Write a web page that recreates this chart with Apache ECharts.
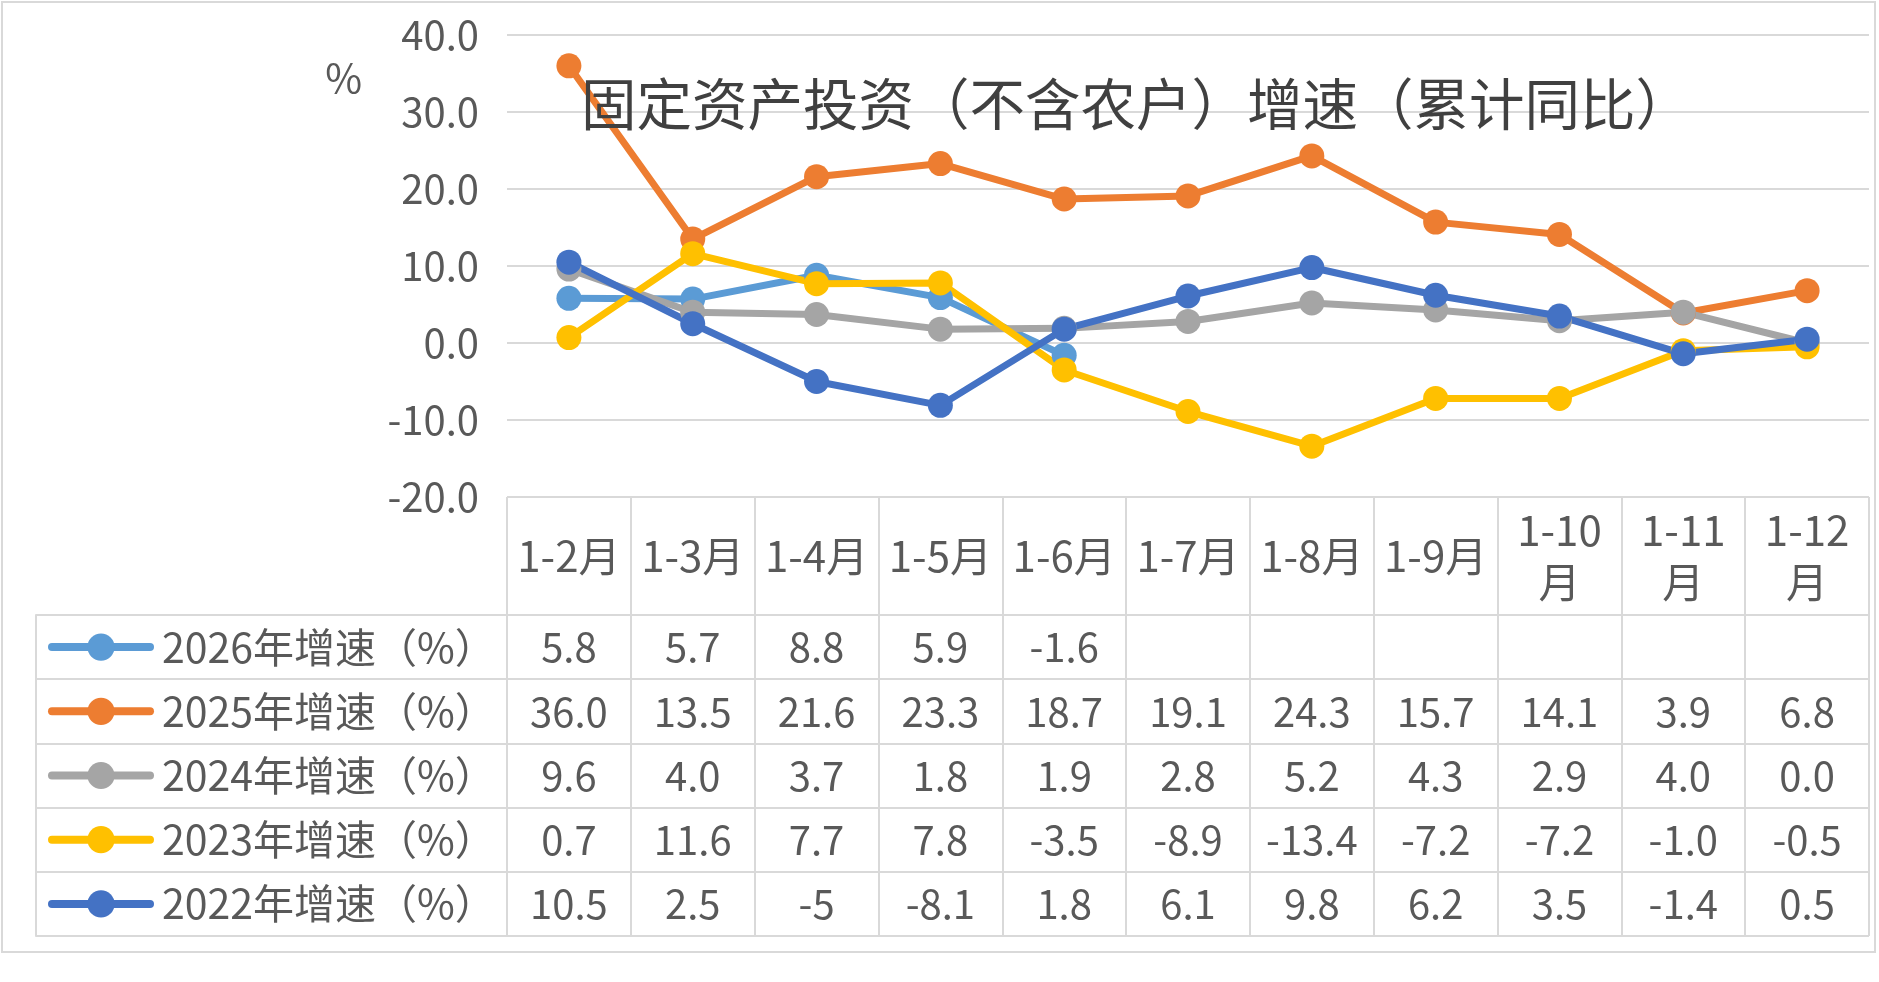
<!DOCTYPE html>
<html>
<head>
<meta charset="UTF-8">
<title>固定资产投资增速</title>
<script src="https://cdn.jsdelivr.net/npm/echarts@6/dist/echarts.min.js"></script>
<style>
  html, body { margin: 0; padding: 0; background: #fff; }
  #main { width: 1879px; height: 982px; }
</style>
</head>
<body>
<div id="main"></div>
<script>
// 月份（累计）
var categories = ['1-2月', '1-3月', '1-4月', '1-5月', '1-6月', '1-7月', '1-8月', '1-9月', '1-10月', '1-11月', '1-12月'];
var seriesNames = ['2026年增速（%）', '2025年增速（%）', '2024年增速（%）', '2023年增速（%）', '2022年增速（%）'];
// 表格里显示的文字，也是折线的数值
var v2026 = ['5.8', '5.7', '8.8', '5.9', '-1.6'];
var v2025 = ['36.0', '13.5', '21.6', '23.3', '18.7', '19.1', '24.3', '15.7', '14.1', '3.9', '6.8'];
var v2024 = ['9.6', '4.0', '3.7', '1.8', '1.9', '2.8', '5.2', '4.3', '2.9', '4.0', '0.0'];
var v2023 = ['0.7', '11.6', '7.7', '7.8', '-3.5', '-8.9', '-13.4', '-7.2', '-7.2', '-1.0', '-0.5'];
var v2022 = ['10.5', '2.5', '-5', '-8.1', '1.8', '6.1', '9.8', '6.2', '3.5', '-1.4', '0.5'];
var yMin = -20, yMax = 40, yStep = 10;

var rows = [v2026, v2025, v2024, v2023, v2022];
var colors = ['#5B9BD5', '#ED7D31', '#A5A5A5', '#FFC000', '#4472C4'];
var font = "'Noto Sans CJK SC', 'Noto Sans', sans-serif";
var textColor = '#595959';
var lineColor = '#d9d9d9';

// 版面
var H = 982;
var plotLeft = 507, plotRight = 10, plotTop = 35, plotBottom = 497;
var headerH = 118, rowH = 64.2;
var tableBottom = plotBottom + headerH + rowH * rows.length;

var chart = echarts.init(document.getElementById('main'));

var xAxes = [{
  type: 'category',
  gridIndex: 0,
  data: categories,
  boundaryGap: true,
  axisLine: { show: false },
  axisTick: { show: false },
  axisLabel: {
    interval: 0,
    margin: headerH / 2,
    verticalAlign: 'middle',
    fontSize: 42,
    lineHeight: 52,
    fontFamily: font,
    color: textColor,
    formatter: function (v) { return v.length > 4 ? v.replace('月', '\n月') : v; }
  }
}];

rows.forEach(function (row, i) {
  xAxes.push({
    type: 'category',
    gridIndex: 0,
    position: 'bottom',
    offset: headerH + rowH * i,
    data: categories,
    axisLine: { show: false },
    axisTick: { show: false },
    axisLabel: {
      interval: 0,
      margin: rowH / 2,
      verticalAlign: 'middle',
      fontSize: 40,
      fontFamily: font,
      color: textColor,
      formatter: function (v, idx) { return row[idx] !== undefined ? row[idx] : ''; }
    }
  });
});

// 表格横线
xAxes.push({ type: 'value', gridIndex: 1, show: false, min: 0, max: 1 });
// 表格竖线
xAxes.push({
  type: 'category',
  gridIndex: 2,
  data: categories,
  boundaryGap: true,
  axisLine: { show: false },
  axisTick: { show: false },
  axisLabel: { show: false },
  splitLine: { show: true, lineStyle: { color: lineColor, width: 2 } }
});

var option = {
  animation: false,
  backgroundColor: '#ffffff',
  title: {
    text: '固定资产投资（不含农户）增速（累计同比）',
    left: 581,
    top: 76,
    padding: 0,
    textStyle: { fontSize: 55.5, fontWeight: 'normal', color: '#404040', fontFamily: font }
  },
  legend: {
    orient: 'vertical',
    left: 48,
    top: plotBottom + headerH + rowH / 2 - 22,
    padding: 0,
    itemWidth: 98,
    itemHeight: 34,
    itemGap: rowH - 44,
    selectedMode: false,
    data: seriesNames,
    lineStyle: { width: 8, cap: 'round' },
    textStyle: { fontSize: 41, lineHeight: 44, color: textColor, fontFamily: font, padding: [0, 0, 0, 7] }
  },
  grid: [
    { left: plotLeft, right: plotRight, top: plotTop, bottom: H - plotBottom, outerBoundsMode: 'none' },
    { left: 36, right: plotRight, top: plotBottom + headerH, bottom: H - tableBottom, outerBoundsMode: 'none' },
    { left: plotLeft, right: plotRight, top: plotBottom, bottom: H - tableBottom, outerBoundsMode: 'none' }
  ],
  xAxis: xAxes,
  yAxis: [{
    type: 'value',
    gridIndex: 0,
    min: yMin,
    max: yMax,
    interval: yStep,
    name: '%',
    nameLocation: 'end',
    nameGap: -43,
    nameTextStyle: { fontSize: 40, color: textColor, fontFamily: font, align: 'right', verticalAlign: 'middle', padding: [0, 145, 0, 0] },
    axisLine: { show: false },
    axisTick: { show: false },
    axisLabel: {
      margin: 28,
      fontSize: 40,
      fontFamily: font,
      color: textColor,
      formatter: function (v) { return v.toFixed(1); }
    },
    splitLine: { lineStyle: { color: lineColor, width: 2 } }
  }, {
    type: 'category',
    gridIndex: 1,
    data: seriesNames,
    inverse: true,
    boundaryGap: true,
    axisLine: { show: true, onZero: false, lineStyle: { color: lineColor, width: 2 } },
    axisTick: { show: false },
    axisLabel: { show: false },
    splitLine: { show: true, lineStyle: { color: lineColor, width: 2 } }
  }, {
    type: 'value',
    gridIndex: 2,
    show: false
  }],
  graphic: [{
    type: 'rect',
    shape: { x: 2, y: 2, width: 1873, height: 950 },
    style: { fill: 'none', stroke: lineColor, lineWidth: 2 },
    silent: true
  }],
  series: seriesNames.map(function (name, i) {
    return {
      name: name,
      type: 'line',
      xAxisIndex: 0,
      yAxisIndex: 0,
      data: rows[i].map(Number),
      symbol: 'circle',
      symbolSize: 25,
      color: colors[i],
      lineStyle: { width: 7, color: colors[i] },
      itemStyle: { color: colors[i] }
    };
  })
};

chart.setOption(option);
</script>
</body>
</html>
